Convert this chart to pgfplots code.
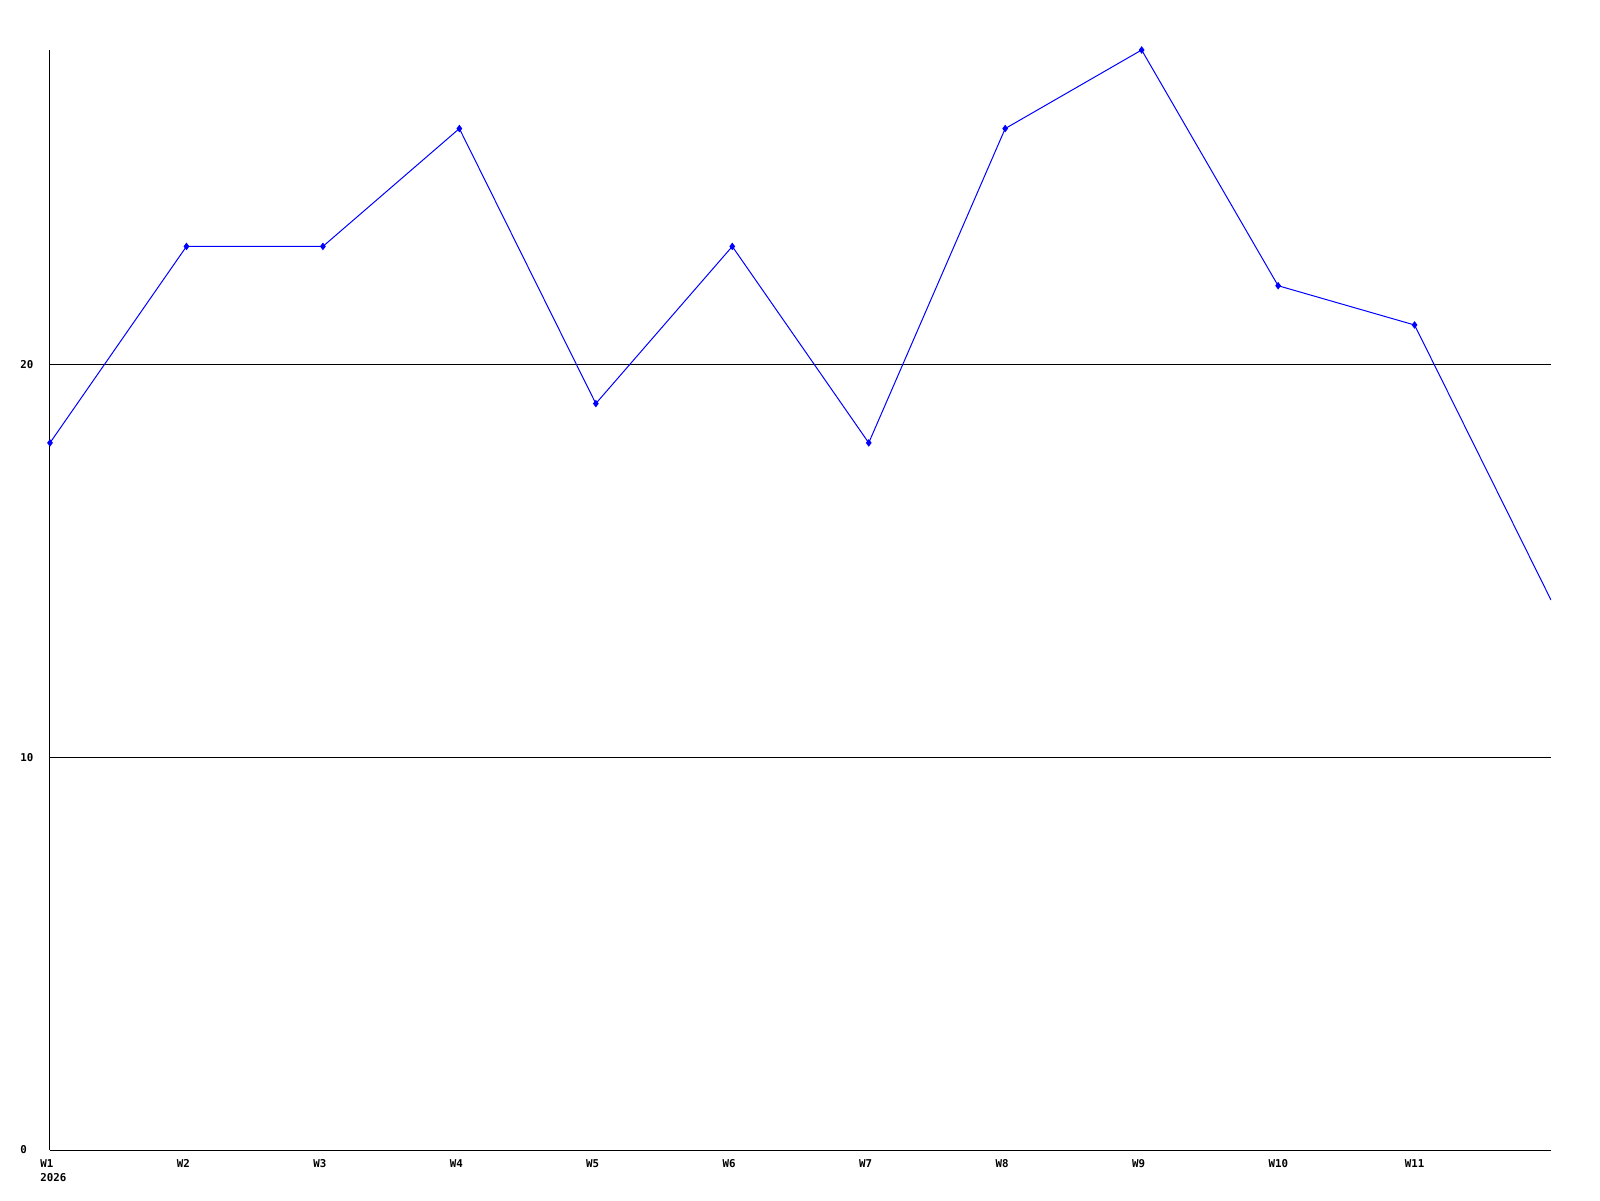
\documentclass[border=0pt]{standalone}
\usepackage{pgfplots}
\pgfplotsset{compat=1.18}
\usepackage{fontspec}
\setmonofont{DejaVu Sans Mono}
\definecolor{lineblue}{RGB}{0,0,255}
\begin{document}
\begin{tikzpicture}
\begin{axis}[
  name=ax,
  scale only axis,
  width=750.5pt, height=550pt,
  xmin=0, xmax=11, ymin=0, ymax=28,
  axis lines*=left,
  axis line style={black, line width=0.5pt},
  xtick={0,...,10},
  xticklabels={{\makebox[0pt][l]{\raisebox{-7.2pt}[0pt][0pt]{2026}}W1},W2,W3,W4,W5,W6,W7,W8,W9,W10,W11},
  ytick={0,10,20},
  major tick length=0pt,
  ymajorgrids,
  major grid style={black, line width=0.5pt},
  tick label style={font=\ttfamily\bfseries\fontsize{5.4}{7}\selectfont, inner sep=0pt},
  xticklabel style={anchor=north west, text height=4pt, text depth=0pt, xshift=-5pt, yshift=-4.3pt},
  yticklabel style={anchor=west, xshift=-15pt},
  /pgf/number format/assume math mode=true,
  clip=true,
]
\addplot[color=lineblue, line width=0.5pt, mark=diamond*, mark size=1.5pt, mark indices={1,...,11}, mark options={solid, fill=lineblue}]
coordinates {
(0,18) (1,23) (2,23) (3,26) (4,19) (5,23) (6,18) (7,26) (8,28) (9,22) (10,21) (11,14)
};
\end{axis}
\pgfresetboundingbox
\path ([xshift=-25pt,yshift=-25pt]ax.south west) rectangle ([xshift=24.5pt,yshift=25pt]ax.north east);
\end{tikzpicture}
\end{document}
